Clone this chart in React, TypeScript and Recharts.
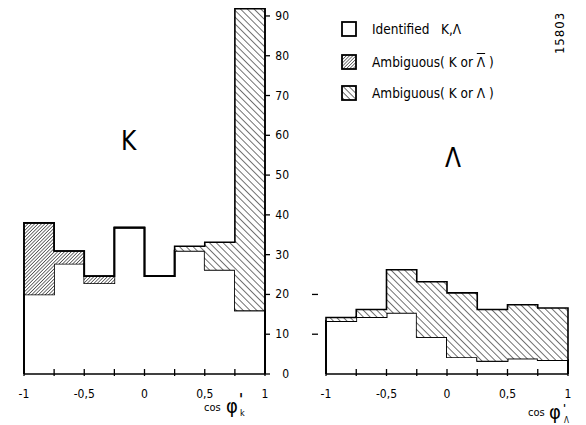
import { ComposedChart, Area, XAxis, YAxis } from 'recharts'

const binEdges = [-1, -0.75, -0.5, -0.25, 0, 0.25, 0.5, 0.75, 1]
const xTickLabels = ['-1', '', '-0,5', '', '0', '', '0,5', '', '1']
const yTicks = [0, 10, 20, 30, 40, 50, 60, 70, 80, 90]
const lambdaMarks = [10, 20]

// K panel, counts per bin
const kIdentified = [20, 27.7, 22.8, 36.8, 24.6, 31, 26.2, 16]
const kAmbigLbar = [18, 3.2, 1.8, 0, 0, 0, 0, 0]
const kAmbigLambda = [0, 0, 0, 0, 0, 1.1, 6.9, 75.8]

// Lambda panel
const lIdentified = [13.3, 14.3, 15.4, 9.3, 4.2, 3.3, 3.9, 3.5]
const lAmbigLbar = [0, 0, 0, 0, 0, 0, 0, 0]
const lAmbigLambda = [0.9, 1.9, 10.8, 13.9, 16.2, 12.9, 13.5, 13.1]

const FONT = '"DejaVu Sans Condensed", "Liberation Sans Narrow", "Liberation Sans", Arial, sans-serif'

// closes the step outline at both ends of the histogram
function histogramRows(identified: number[], ambBar: number[], ambLam: number[]) {
  const rows = [{ x: binEdges[0], identified: 0, ambBar: 0, ambLam: 0 }]
  identified.forEach((v, i) => {
    rows.push({ x: binEdges[i], identified: v, ambBar: ambBar[i], ambLam: ambLam[i] })
  })
  const n = identified.length - 1
  rows.push({ x: binEdges[n + 1], identified: identified[n], ambBar: ambBar[n], ambLam: ambLam[n] })
  rows.push({ x: binEdges[n + 1], identified: 0, ambBar: 0, ambLam: 0 })
  return rows
}

const kRows = histogramRows(kIdentified, kAmbigLbar, kAmbigLambda)
const lRows = histogramRows(lIdentified, lAmbigLbar, lAmbigLambda)

function XTick(props: any) {
  const { x, y, payload } = props
  const idx = binEdges.indexOf(payload.value)
  const label = idx >= 0 ? xTickLabels[idx] : ''
  return (
    <g>
      <line x1={x} x2={x} y1={y - 5} y2={y + 2} stroke="#000" strokeWidth={1.3} />
      {label && (
        <text x={x} y={y + 24} textAnchor="middle" fontSize={12} fontFamily={FONT} fill="#000">
          {label}
        </text>
      )}
    </g>
  )
}

function YTick(props: any) {
  const { x, y, payload } = props
  return (
    <g>
      <line x1={x} x2={x + 5} y1={y} y2={y} stroke="#000" strokeWidth={1.3} />
      <text x={x + 24} y={y + 4} textAnchor="end" fontSize={12} fontFamily={FONT} fill="#000">
        {payload.value}
      </text>
    </g>
  )
}

function DashTick(props: any) {
  const { x, y } = props
  return <line x1={x - 14} x2={x - 8} y1={y} y2={y} stroke="#000" strokeWidth={1.3} />
}

function Hatch({ id, gap, angle, width = 1 }: { id: string; gap: number; angle: number; width?: number }) {
  return (
    <pattern id={id} patternUnits="userSpaceOnUse" width={gap} height={gap} patternTransform={`rotate(${angle})`}>
      <rect width={gap} height={gap} fill="#fff" />
      <line x1={0} y1={0} x2={0} y2={gap} stroke="#000" strokeWidth={width} />
    </pattern>
  )
}

function Histogram({ prefix }: { prefix: string }) {
  const common = {
    type: 'stepAfter' as const,
    stackId: 's',
    stroke: '#000',
    strokeWidth: 1.6,
    fillOpacity: 1,
    dot: false,
    activeDot: false,
    isAnimationActive: false,
  }
  return [
    <Area key="id" dataKey="identified" fill="#fff" {...common} />,
    <Area key="bar" dataKey="ambBar" fill={`url(#${prefix}-dense)`} {...common} />,
    <Area key="lam" dataKey="ambLam" fill={`url(#${prefix}-sparse)`} {...common} />,
  ]
}

function LegendBox({ fill }: { fill: string }) {
  return (
    <svg width={16} height={16} style={{ position: 'absolute', left: 0, top: 0 }}>
      <defs>
        <Hatch id="lg-dense" gap={2.3} angle={45} />
        <Hatch id="lg-sparse" gap={4.2} angle={-45} width={1.1} />
      </defs>
      <rect x={1} y={1} width={14} height={14} fill={fill} stroke="#000" strokeWidth={1.8} />
    </svg>
  )
}

const legendItems = [
  { fill: '#fff', label: <>Identified{'   '}K,Λ</> },
  { fill: 'url(#lg-dense)', label: <>Ambiguous( K or <span style={{ textDecoration: 'overline' }}>Λ</span> )</> },
  { fill: 'url(#lg-sparse)', label: <>Ambiguous( K or Λ )</> },
]

export default function App() {
  const yDomain = [0, 92]
  return (
    <div style={{ position: 'absolute', left: 0, top: 0, width: 586, height: 425, background: '#fff', fontFamily: FONT, overflow: 'hidden' }}>
      <div style={{ position: 'absolute', left: 0, top: 0 }}>
        <ComposedChart width={295} height={425} data={kRows} margin={{ top: 8, right: 0, left: 24, bottom: 0 }}>
          <defs>
            <Hatch id="k-dense" gap={2.4} angle={45} width={1.1} />
            <Hatch id="k-sparse" gap={4.8} angle={-45} width={1.1} />
          </defs>
          <XAxis
            dataKey="x"
            type="number"
            domain={[-1, 1]}
            ticks={binEdges}
            height={51}
            tickSize={0}
            tickMargin={0}
            tickLine={false}
            tick={<XTick />}
            axisLine={{ stroke: '#000', strokeWidth: 1.5 }}
            interval={0}
          />
          <YAxis
            orientation="right"
            type="number"
            domain={yDomain}
            ticks={yTicks}
            width={30}
            tickSize={0}
            tickMargin={0}
            tickLine={false}
            tick={<YTick />}
            axisLine={{ stroke: '#000', strokeWidth: 1.5 }}
            interval={0}
          />
          {Histogram({ prefix: 'k' })}
        </ComposedChart>
      </div>

      <div style={{ position: 'absolute', left: 290, top: 0 }}>
        <ComposedChart width={296} height={425} data={lRows} margin={{ top: 8, right: 18, left: 16, bottom: 0 }}>
          <defs>
            <Hatch id="l-dense" gap={2.4} angle={45} width={1.1} />
            <Hatch id="l-sparse" gap={4.8} angle={-45} width={1.1} />
          </defs>
          <XAxis
            dataKey="x"
            type="number"
            domain={[-1, 1]}
            ticks={binEdges}
            height={51}
            tickSize={0}
            tickMargin={0}
            tickLine={false}
            tick={<XTick />}
            axisLine={{ stroke: '#000', strokeWidth: 1.5 }}
            interval={0}
          />
          <YAxis
            orientation="left"
            type="number"
            domain={yDomain}
            ticks={lambdaMarks}
            width={20}
            tickSize={0}
            tickMargin={0}
            tickLine={false}
            tick={<DashTick />}
            axisLine={false}
            interval={0}
          />
          {Histogram({ prefix: 'l' })}
        </ComposedChart>
      </div>

      {/* panel letters */}
      <div style={{ position: 'absolute', left: 121, top: 126, fontSize: 26, lineHeight: '30px' }}>K</div>
      <div style={{ position: 'absolute', left: 445, top: 143, fontSize: 26, lineHeight: '30px' }}>Λ</div>

      {/* legend */}
      {legendItems.map((it, i) => (
        <div key={i} style={{ position: 'absolute', left: 341, top: [21, 54, 85][i], height: 16 }}>
          <LegendBox fill={it.fill} />
          <div style={{ position: 'absolute', left: 31, top: 0, fontSize: 13.5, lineHeight: '16px', whiteSpace: 'pre' }}>
            {it.label}
          </div>
        </div>
      ))}

      <div
        style={{
          position: 'absolute',
          left: 559,
          top: 33,
          fontSize: 13,
          transform: 'translate(-50%, -50%) rotate(-90deg)',
          letterSpacing: 1,
        }}
      >
        15803
      </div>

      {/* axis titles */}
      <div style={{ position: 'absolute', left: 204, top: 396, width: 50, height: 28, fontSize: 11 }}>
        <span style={{ position: 'absolute', left: 0, top: 6, lineHeight: '12px' }}>cos</span>
        <span style={{ position: 'absolute', left: 22, top: 0, fontSize: 20, lineHeight: '20px' }}>φ</span>
        <span style={{ position: 'absolute', left: 35, top: 0, fontSize: 15, fontWeight: 'bold', lineHeight: '8px' }}>'</span>
        <span style={{ position: 'absolute', left: 36, top: 12, fontSize: 9, lineHeight: '10px' }}>k</span>
      </div>
      <div style={{ position: 'absolute', left: 528, top: 403, width: 52, height: 22, fontSize: 11 }}>
        <span style={{ position: 'absolute', left: 0, top: 4, lineHeight: '12px' }}>cos</span>
        <span style={{ position: 'absolute', left: 21, top: 0, fontSize: 20, lineHeight: '18px' }}>φ</span>
        <span style={{ position: 'absolute', left: 35, top: 3, fontSize: 11, fontWeight: 'bold', lineHeight: '6px' }}>'</span>
        <span style={{ position: 'absolute', left: 36, top: 14, fontSize: 8, lineHeight: '8px' }}>Λ</span>
      </div>
    </div>
  )
}
